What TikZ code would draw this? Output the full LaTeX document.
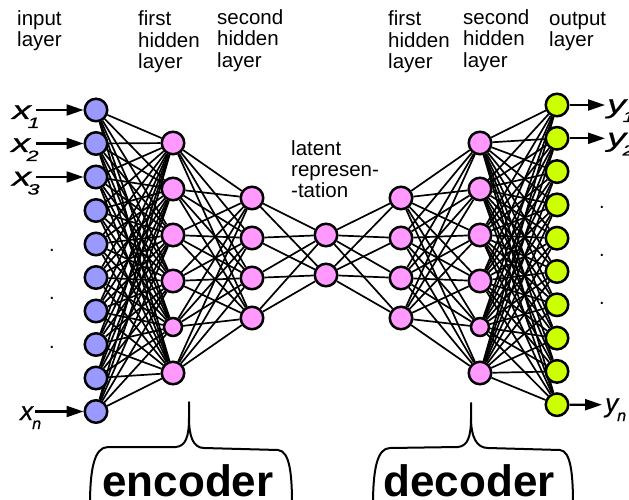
\documentclass[tikz,border=0pt]{standalone}
\usepackage{fontspec}
\usepackage{graphicx}
\setmainfont{Liberation Sans}
\newfontfamily\wfont{Liberation Sans}[FakeBold=0.6,FakeStretch=1.45]
\newfontfamily\nfont{Liberation Sans}[FakeBold=0.4]
\usetikzlibrary{arrows.meta}
\definecolor{inblue}{RGB}{153,153,255}
\definecolor{hidpink}{RGB}{255,153,255}
\definecolor{outlime}{RGB}{204,255,0}
\pgfdeclarelayer{bg}
\pgfsetlayers{bg,main}
\newcommand\wvar[2]{{\wfont\itshape\fontsize{26}{26}\selectfont #1\kern-3.5pt\raisebox{-9pt}{\fontsize{15}{15}\selectfont #2}}}
\newcommand\nvar[2]{{\nfont\itshape\fontsize{26}{26}\selectfont #1\kern-1pt\raisebox{-9pt}{\fontsize{16}{16}\selectfont #2}}}
\begin{document}
\begin{tikzpicture}[x=1pt,y=-1pt,
 neuron/.style={circle,draw=black,line width=2.5pt,minimum size=22.5pt,inner sep=0pt},
 inneuron/.style={neuron,fill=inblue},
 hidneuron/.style={neuron,fill=hidpink},
 smallneuron/.style={hidneuron,minimum size=18pt},
 outneuron/.style={neuron,fill=outlime},
 conn/.style={line width=1.7pt},
 ioarrow/.style={line width=2.2pt,-{Triangle[length=17pt,width=11pt]}},
 lbl/.style={anchor=base west,inner sep=0pt,font=\fontsize{20.5}{21}\selectfont},
 dotlbl/.style={anchor=base,inner sep=0pt,font=\fontsize{20}{21}\selectfont},
 brace/.style={line width=2pt,line cap=round},
 part/.style={anchor=base,inner sep=0pt,font=\fontsize{44}{44}\selectfont\bfseries},
 var/.style={anchor=base west,inner sep=0pt}
]
\useasboundingbox (0,0) rectangle (629,500);

% layer titles
\node[lbl] (tin1) at (17,26) {input};
\node[lbl] (tin2) at (17,47) {layer};
\node[lbl] (tef1) at (138,26) {first};
\node[lbl] (tef2) at (138,47.5) {hidden};
\node[lbl] (tef3) at (138,69) {layer};
\node[lbl] (tes1) at (217,24.5) {second};
\node[lbl] (tes2) at (217,46) {hidden};
\node[lbl] (tes3) at (217,67.5) {layer};
\node[lbl] (tlat1) at (291,155) {latent};
\node[lbl] (tlat2) at (291,176) {represen-};
\node[lbl] (tlat3) at (291,197) {-tation};
\node[lbl] (tdf1) at (388,26) {first};
\node[lbl] (tdf2) at (388,47.5) {hidden};
\node[lbl] (tdf3) at (388,69) {layer};
\node[lbl] (tds1) at (463,24.5) {second};
\node[lbl] (tds2) at (463,46) {hidden};
\node[lbl] (tds3) at (463,67.5) {layer};
\node[lbl] (tout1) at (549,26) {output};
\node[lbl] (tout2) at (549,47) {layer};

% neurons
\foreach \k in {1,...,10}
  \node[inneuron] (i\k) at (96,{110+33.5*(\k-1)}) {};
\foreach \y/\s [count=\k] in {143/hidneuron,189/hidneuron,235/hidneuron,281/hidneuron,327/smallneuron,373/hidneuron}
  \node[\s] (e\k) at (173,\y) {};
\foreach \y [count=\k] in {198,238,278,318}
  \node[hidneuron] (s\k) at (252,\y) {};
\node[hidneuron] (l1) at (326,235) {};
\node[hidneuron] (l2) at (326,275) {};
\foreach \y [count=\k] in {198,238,278,318}
  \node[hidneuron] (d\k) at (401,\y) {};
\foreach \y/\s [count=\k] in {143/hidneuron,189/hidneuron,235/hidneuron,281/hidneuron,327/smallneuron,373/hidneuron}
  \node[\s] (f\k) at (480,\y) {};
\foreach \k in {1,...,10}
  \node[outneuron] (o\k) at (557,{105+33.3*(\k-1)}) {};

% connections
\begin{pgfonlayer}{bg}
\foreach \a in {1,...,10} \foreach \b in {1,...,6} \draw[conn] (i\a) -- (e\b);
\foreach \a in {1,...,6} \foreach \b in {1,...,4} \draw[conn] (e\a) -- (s\b);
\foreach \a in {1,...,4} \foreach \b in {1,2} \draw[conn] (s\a) -- (l\b);
\foreach \a in {1,2} \foreach \b in {1,...,4} \draw[conn] (l\a) -- (d\b);
\foreach \a in {1,...,4} \foreach \b in {1,...,6} \draw[conn] (d\a) -- (f\b);
\foreach \a in {1,...,6} \foreach \b in {1,...,10} \draw[conn] (f\a) -- (o\b);
\end{pgfonlayer}

% inputs
\node[var] (x1) at (12,119) {\wvar{x}{1}};
\node[var] (x2) at (11,152) {\wvar{x}{2}};
\node[var] (x3) at (12,185.5) {\wvar{x}{3}};
\node[var] (xn) at (20,420) {\nvar{x}{n}};
\coordinate (xa1) at (36,110);
\coordinate (xa2) at (36,143.5);
\coordinate (xa3) at (36,177);
\coordinate (xan) at (35,411.5);
\draw[ioarrow] (xa1) -- (i1);
\draw[ioarrow] (xa2) -- (i2);
\draw[ioarrow] (xa3) -- (i3);
\draw[ioarrow] (xan) -- (i10);

% outputs
\coordinate (ya1) at (605,105);
\coordinate (ya2) at (605,138.3);
\coordinate (yan) at (602,404.7);
\draw[ioarrow] (o1) -- (ya1);
\draw[ioarrow] (o2) -- (ya2);
\draw[ioarrow] (o10) -- (yan);
\node[var] (y1) at (607,113) {\wvar{y}{1}};
\node[var] (y2) at (607,146.5) {\wvar{y}{2}};
\node[var] (yn) at (605,412) {\nvar{y}{n}};

% dots
\node[dotlbl] (di1) at (52,251.5) {.};
\node[dotlbl] (di2) at (52,299.5) {.};
\node[dotlbl] (di3) at (52,348.5) {.};
\node[dotlbl] (do1) at (602,208.5) {.};
\node[dotlbl] (do2) at (602,256.5) {.};
\node[dotlbl] (do3) at (602,304.5) {.};

% braces
\draw[brace] (90,505) .. controls (90,470) and (94,447) .. (108,447) -- (176,447) .. controls (186,446) and (189,436) .. (189,418) -- (189,402);
\draw[brace] (189,418) .. controls (189,436) and (193,448) .. (204,448) -- (278,450) .. controls (290,451) and (292,475) .. (292,505);
\draw[brace] (373,505) .. controls (373,470) and (377,448) .. (390,448) -- (458,447) .. controls (468,446) and (471,436) .. (471,418) -- (471,403);
\draw[brace] (471,418) .. controls (471,436) and (476,448) .. (488,448) -- (560,450) .. controls (571,451) and (573,475) .. (573,505);
\node[part] (enc) at (188,496) {encoder};
\node[part] (dec) at (469,496) {decoder};
\end{tikzpicture}
\end{document}
